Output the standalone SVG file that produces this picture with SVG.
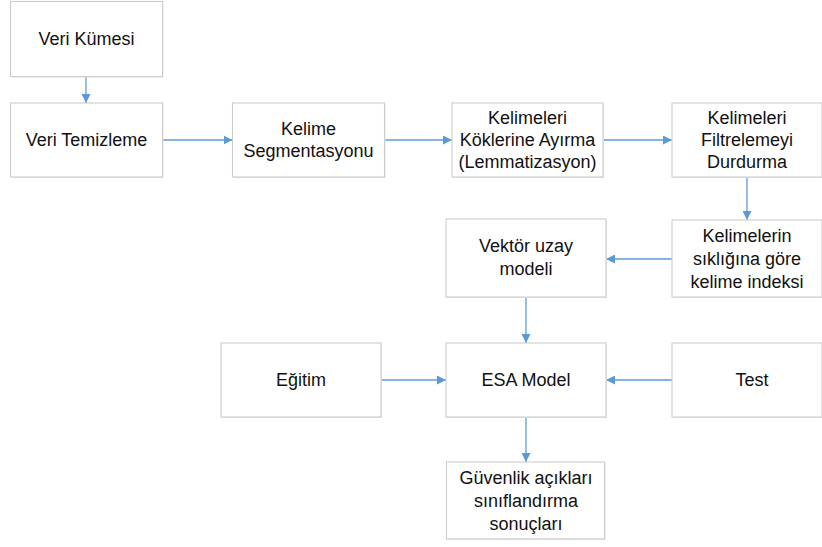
<svg xmlns="http://www.w3.org/2000/svg" width="822" height="547" viewBox="0 0 822 547">
<defs>
<style>
.box{fill:#ffffff;stroke:#cccccc;stroke-width:1.1}
.sh{fill:#e2e7ee}
.t{font-family:"Liberation Sans",Arial,sans-serif;font-size:18px;fill:#111;text-anchor:middle}
.c{stroke:#5b9bd5;stroke-width:1.3;fill:none;marker-end:url(#ah)}
</style>
<marker id="ah" viewBox="0 0 10 10" refX="10" refY="5" markerWidth="9" markerHeight="9" markerUnits="userSpaceOnUse" orient="auto">
<path d="M0,0 L10,5 L0,10 z" fill="#5b9bd5"/>
</marker>
</defs>
<rect width="822" height="547" fill="#ffffff"/>
<g id="connectors">
<path class="c" d="M86,76.5 V103"/>
<path class="c" d="M162.5,140 H232.5"/>
<path class="c" d="M384.5,140 H452"/>
<path class="c" d="M603.5,140 H672"/>
<path class="c" d="M747,177 V220"/>
<path class="c" d="M672,259 H606"/>
<path class="c" d="M526,297 V343"/>
<path class="c" d="M381,380 H446"/>
<path class="c" d="M672,380 H606"/>
<path class="c" d="M526,417 V462"/>
</g>
<g id="veri-kumesi">
<rect class="sh" x="11.5" y="2.5" width="152" height="75"/>
<rect class="box" x="10.5" y="1.5" width="152" height="75"/>
<text class="t" x="86.5" y="45">Veri Kümesi</text>
</g>
<g id="veri-temizleme">
<rect class="sh" x="11.5" y="104" width="152" height="74"/>
<rect class="box" x="10.5" y="103" width="152" height="74"/>
<text class="t" x="86.5" y="146">Veri Temizleme</text>
</g>
<g id="kelime-segmentasyonu">
<rect class="sh" x="233.5" y="104" width="152" height="74"/>
<rect class="box" x="232.5" y="103" width="152" height="74"/>
<text class="t" x="308.5" y="135">Kelime</text>
<text class="t" x="308.5" y="157">Segmentasyonu</text>
</g>
<g id="lemmatizasyon">
<rect class="sh" x="453" y="104" width="151" height="74"/>
<rect class="box" x="452" y="103" width="151" height="74"/>
<text class="t" x="527.5" y="124">Kelimeleri</text>
<text class="t" x="527.5" y="146">Köklerine Ayırma</text>
<text class="t" x="527.5" y="168">(Lemmatizasyon)</text>
</g>
<g id="filtreleme">
<rect class="sh" x="673" y="104" width="150" height="74"/>
<rect class="box" x="672" y="103" width="150" height="74"/>
<text class="t" x="747" y="124">Kelimeleri</text>
<text class="t" x="747" y="146">Filtrelemeyi</text>
<text class="t" x="747" y="168">Durdurma</text>
</g>
<g id="kelime-indeksi">
<rect class="sh" x="673" y="221" width="150" height="77"/>
<rect class="box" x="672" y="220" width="150" height="77"/>
<text class="t" x="747" y="242">Kelimelerin</text>
<text class="t" x="747" y="265">sıklığına göre</text>
<text class="t" x="747" y="288">kelime indeksi</text>
</g>
<g id="vektor-uzay">
<rect class="sh" x="447" y="220" width="160" height="78"/>
<rect class="box" x="446" y="219" width="160" height="78"/>
<text class="t" x="526" y="252">Vektör uzay</text>
<text class="t" x="526" y="275">modeli</text>
</g>
<g id="egitim">
<rect class="sh" x="222" y="344" width="160" height="74"/>
<rect class="box" x="221" y="343" width="160" height="74"/>
<text class="t" x="301" y="386">Eğitim</text>
</g>
<g id="esa-model">
<rect class="sh" x="447" y="344" width="160" height="74"/>
<rect class="box" x="446" y="343" width="160" height="74"/>
<text class="t" x="526" y="386">ESA Model</text>
</g>
<g id="test">
<rect class="sh" x="673" y="344" width="150" height="74"/>
<rect class="box" x="672" y="343" width="150" height="74"/>
<text class="t" x="752" y="386">Test</text>
</g>
<g id="guvenlik">
<rect class="sh" x="447.5" y="463" width="158" height="77"/>
<rect class="box" x="446.5" y="462" width="158" height="77"/>
<text class="t" x="526" y="484">Güvenlik açıkları</text>
<text class="t" x="526" y="507">sınıflandırma</text>
<text class="t" x="526" y="530">sonuçları</text>
</g>
</svg>
